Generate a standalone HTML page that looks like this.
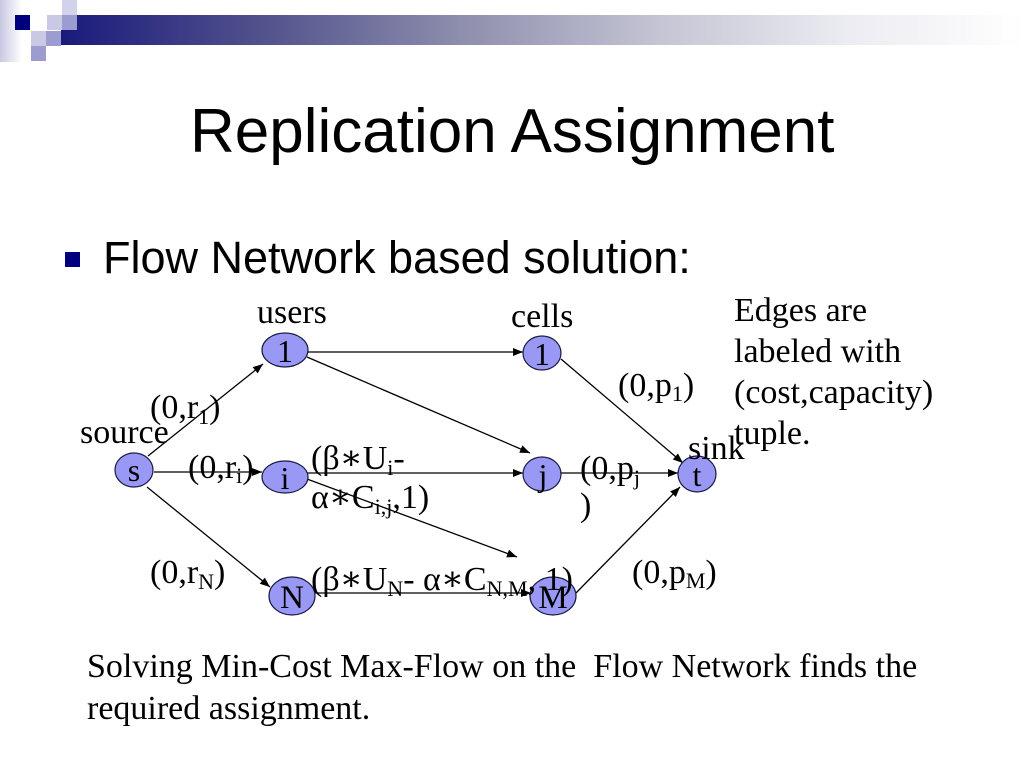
<!DOCTYPE html>
<html>
<head>
<meta charset="utf-8">
<style>
  html,body{margin:0;padding:0;background:#fff;}
  body{width:1024px;height:768px;overflow:hidden;position:relative;}
  svg{position:absolute;left:0;top:0;}
  .serif{font-family:"Liberation Serif","DejaVu Serif",serif;fill:#000;}
  .sans{font-family:"Liberation Sans","DejaVu Sans",sans-serif;fill:#000;}
</style>
</head>
<body>
<svg width="1024" height="768" viewBox="0 0 1024 768" xmlns="http://www.w3.org/2000/svg">
  <defs>
    <linearGradient id="bar" x1="0" y1="0" x2="1" y2="0">
      <stop offset="0" stop-color="#1a1a7c"/>
      <stop offset="0.22" stop-color="#55558e"/>
      <stop offset="0.42" stop-color="#8f8fae"/>
      <stop offset="0.62" stop-color="#c4c4d4"/>
      <stop offset="0.82" stop-color="#ececf2"/>
      <stop offset="1" stop-color="#ffffff"/>
    </linearGradient>
    <linearGradient id="strip" x1="0" y1="0" x2="1" y2="0">
      <stop offset="0" stop-color="#c8c8e4"/>
      <stop offset="1" stop-color="#ffffff"/>
    </linearGradient>
    <marker id="ah" viewBox="0 0 10 8" refX="10" refY="4" markerWidth="11" markerHeight="8" markerUnits="userSpaceOnUse" orient="auto">
      <path d="M0,0 L10,4 L0,8 z" fill="#000"/>
    </marker>
  </defs>

  <!-- header decoration -->
  <rect x="0" y="0" width="22" height="62" fill="url(#strip)"/>
  <rect x="61" y="15" width="963" height="30" fill="url(#bar)"/>
  <rect x="15" y="15" width="15" height="15" fill="#00007e"/>
  <rect x="47" y="15" width="15" height="15" fill="#c9c9e6"/>
  <rect x="62" y="15" width="15" height="15" fill="#9c9cd0"/>
  <rect x="62" y="0" width="15" height="15" fill="#d2d2ea"/>
  <rect x="31" y="31" width="15" height="15" fill="#c9c9e6"/>
  <rect x="46" y="31" width="15" height="15" fill="#9c9cd0"/>
  <rect x="31" y="46" width="15" height="15" fill="#9c9cd0"/>

  <!-- title -->
  <text class="sans" x="190" y="152" font-size="62">Replication Assignment</text>

  <!-- bullet -->
  <rect x="65" y="252" width="15" height="15" fill="#00007e"/>
  <text class="sans" x="103" y="273" font-size="45">Flow Network based solution:</text>

  <!-- edges -->
  <g stroke="#000" stroke-width="1.3" fill="none" marker-end="url(#ah)">
    <line x1="148" y1="456" x2="263" y2="364"/>
    <line x1="154" y1="472" x2="262" y2="472"/>
    <line x1="147" y1="487" x2="270" y2="587"/>
    <line x1="308" y1="352" x2="523" y2="352"/>
    <line x1="307" y1="357" x2="530" y2="453"/>
    <line x1="307" y1="473" x2="523" y2="473"/>
    <line x1="307" y1="479" x2="517" y2="557"/>
    <line x1="315" y1="593" x2="531" y2="593"/>
    <line x1="561" y1="359" x2="683" y2="463"/>
    <line x1="561" y1="473" x2="678" y2="473"/>
    <line x1="575" y1="594" x2="680" y2="487"/>
  </g>

  <!-- nodes -->
  <g fill="#9999f5" stroke="#1a1a40" stroke-width="1.2">
    <ellipse cx="285" cy="350" rx="23" ry="17"/>
    <ellipse cx="134" cy="470" rx="19" ry="17"/>
    <ellipse cx="285" cy="477" rx="23" ry="16"/>
    <ellipse cx="542" cy="353" rx="19" ry="17"/>
    <ellipse cx="542" cy="474" rx="19" ry="17"/>
    <ellipse cx="697" cy="474" rx="19" ry="18"/>
    <ellipse cx="292" cy="596" rx="23" ry="19"/>
    <ellipse cx="553" cy="596" rx="23" ry="19"/>
  </g>
  <g class="serif" font-size="32" text-anchor="middle">
    <text x="285" y="362">1</text>
    <text x="134" y="481">s</text>
    <text x="285" y="489">i</text>
    <text x="542" y="365">1</text>
    <text x="543" y="486">j</text>
    <text x="697" y="486">t</text>
    <text x="292" y="608" font-size="33">N</text>
    <text x="553" y="608" font-size="33">M</text>
  </g>

  <!-- labels -->
  <g class="serif" font-size="34">
    <text x="257" y="323">users</text>
    <text x="511" y="327">cells</text>
    <text x="80" y="443">source</text>
    <text x="688" y="459">sink</text>

    <text x="150" y="418">(0,r<tspan font-size="22" dy="6">1</tspan><tspan dy="-6">)</tspan></text>
    <text x="188" y="478">(0,r<tspan font-size="22" dy="5">i</tspan><tspan dy="-5">)</tspan></text>
    <text x="150" y="583">(0,r<tspan font-size="22" dy="6">N</tspan><tspan dy="-6">)</tspan></text>

    <text x="311" y="469">(β∗U<tspan font-size="22" dy="6">i</tspan><tspan dy="-6">-</tspan></text>
    <text x="311" y="508">α∗C<tspan font-size="22" dy="6">i,j</tspan><tspan dy="-6">,1)</tspan></text>

    <text x="311" y="590">(β∗U<tspan font-size="22" dy="6">N</tspan><tspan dy="-6">- α∗C</tspan><tspan font-size="22" dy="6">N,M</tspan><tspan dy="-6">, 1)</tspan></text>

    <text x="618" y="396">(0,p<tspan font-size="22" dy="5">1</tspan><tspan dy="-5">)</tspan></text>
    <text x="580" y="479">(0,p<tspan font-size="22" dy="6">j</tspan></text>
    <text x="580" y="516">)</text>
    <text x="632" y="583">(0,p<tspan font-size="22" dy="5">M</tspan><tspan dy="-5">)</tspan></text>

    <text x="734" y="321">Edges are</text>
    <text x="734" y="362">labeled with</text>
    <text x="734" y="403">(cost,capacity)</text>
    <text x="734" y="444">tuple.</text>

    <text x="87" y="677" xml:space="preserve">Solving Min-Cost Max-Flow on the  Flow Network finds the</text>
    <text x="87" y="719">required assignment.</text>
  </g>
</svg>
</body>
</html>
